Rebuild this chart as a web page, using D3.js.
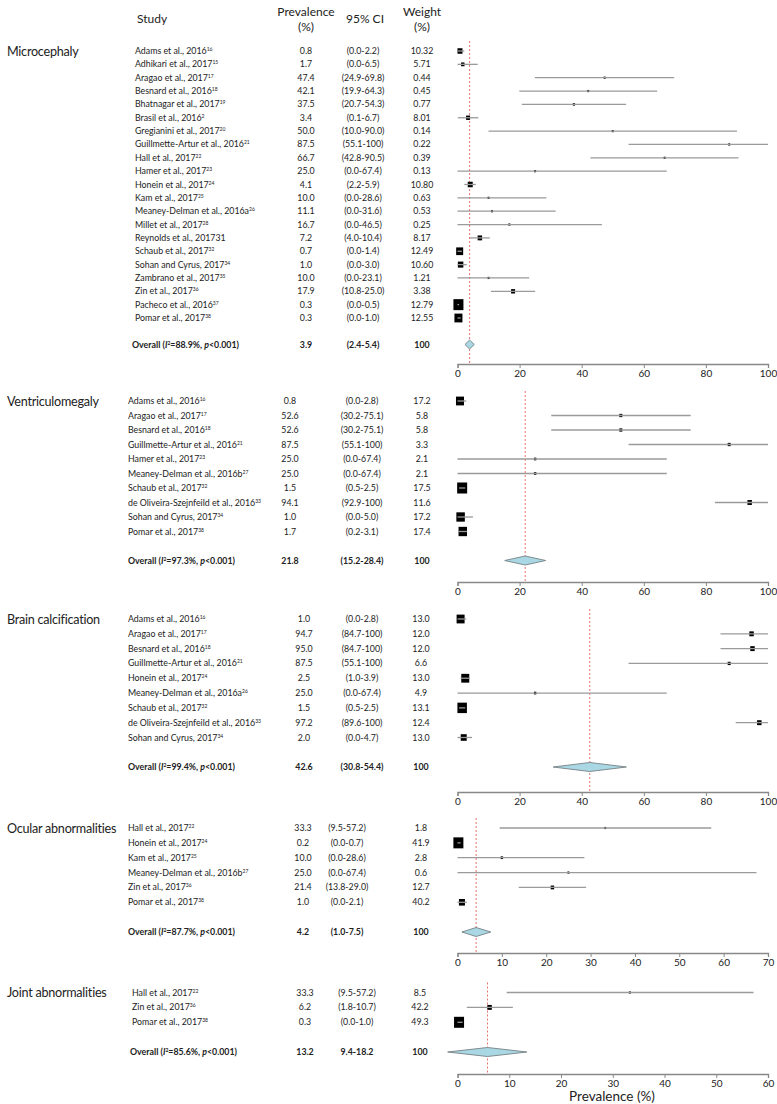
<!DOCTYPE html>
<html><head><meta charset="utf-8">
<script src="https://cdn.jsdelivr.net/npm/d3@7"></script>
<style>
body{margin:0;background:#fff}
text{font-family:Lato,"Open Sans",sans-serif;fill:#222}
</style></head>
<body><svg id="chart" width="777" height="1104"></svg>
<script>
// ---------- DATA ----------
const panelNames = ["Microcephaly","Ventriculomegaly","Brain calcification","Ocular abnormalities","Joint abnormalities"];

const microStudies = ["Adams et al., 2016","Adhikari et al., 2017","Aragao et al., 2017","Besnard et al., 2016","Bhatnagar et al., 2017","Brasil et al., 2016","Gregianini et al., 2017","Guillmette-Artur et al., 2016","Hall et al., 2017","Hamer et al., 2017","Honein et al., 2017","Kam et al., 2017","Meaney-Delman et al., 2016a","Millet et al., 2017","Reynolds et al., 201731","Schaub et al., 2017","Sohan and Cyrus, 2017","Zambrano et al., 2017","Zin et al., 2017","Pacheco et al., 2016","Pomar et al., 2017"];
const microRefs = ["16","15","17","18","19","2","20","21","22","23","24","25","26","28","","32","34","35","36","37","38"];
const microEst = [0.8,1.7,47.4,42.1,37.5,3.4,50.0,87.5,66.7,25.0,4.1,10.0,11.1,16.7,7.2,0.7,1.0,10.0,17.9,0.3,0.3];
const microLo = [0.0,0.0,24.9,19.9,20.7,0.1,10.0,55.1,42.8,0.0,2.2,0.0,0.0,0.0,4.0,0.0,0.0,0.0,10.8,0.0,0.0];
const microHi = [2.2,6.5,69.8,64.3,54.3,6.7,90.0,100,90.5,67.4,5.9,28.6,31.6,46.5,10.4,1.4,3.0,23.1,25.0,0.5,1.0];
const microCi = ["(0.0-2.2)","(0.0-6.5)","(24.9-69.8)","(19.9-64.3)","(20.7-54.3)","(0.1-6.7)","(10.0-90.0)","(55.1-100)","(42.8-90.5)","(0.0-67.4)","(2.2-5.9)","(0.0-28.6)","(0.0-31.6)","(0.0-46.5)","(4.0-10.4)","(0.0-1.4)","(0.0-3.0)","(0.0-23.1)","(10.8-25.0)","(0.0-0.5)","(0.0-1.0)"];
const microWeight = [10.32,5.71,0.44,0.45,0.77,8.01,0.14,0.22,0.39,0.13,10.80,0.63,0.53,0.25,8.17,12.49,10.60,1.21,3.38,12.79,12.55];
const microBoxWeight = [25,12,4,4,5,16,4,4,4,2,25,4,4,2,20,49,30,4,16,100,64];

const ventStudies = ["Adams et al., 2016","Aragao et al., 2017","Besnard et al., 2016","Guillmette-Artur et al., 2016","Hamer et al., 2017","Meaney-Delman et al., 2016b","Schaub et al., 2017","de Oliveira-Szejnfeild et al., 2016","Sohan and Cyrus, 2017","Pomar et al., 2017"];
const ventRefs = ["16","17","18","21","23","27","32","33","34","38"];
const ventEst = [0.8,52.6,52.6,87.5,25.0,25.0,1.5,94.1,1.0,1.7];
const ventLo = [0.0,30.2,30.2,55.1,0.0,0.0,0.5,82.9,0.0,0.2];
const ventHi = [2.8,75.1,75.1,100,67.4,67.4,2.5,100,5.0,3.1];
const ventCi = ["(0.0-2.8)","(30.2-75.1)","(30.2-75.1)","(55.1-100)","(0.0-67.4)","(0.0-67.4)","(0.5-2.5)","(92.9-100)","(0.0-5.0)","(0.2-3.1)"];
const ventWeight = [17.2,5.8,5.8,3.3,2.1,2.1,17.5,11.6,17.2,17.4];
const ventBoxWeight = [64,9,9,9,6,6,100,20,72,72];

const brainStudies = ["Adams et al., 2016","Aragao et al., 2017","Besnard et al., 2016","Guillmette-Artur et al., 2016","Honein et al., 2017","Meaney-Delman et al., 2016a","Schaub et al., 2017","de Oliveira-Szejnfeild et al., 2016","Sohan and Cyrus, 2017"];
const brainRefs = ["16","17","18","21","24","26","32","33","34"];
const brainEst = [1.0,94.7,95.0,87.5,2.5,25.0,1.5,97.2,2.0];
const brainLo = [0.0,84.7,84.7,55.1,1.0,0.0,0.5,89.6,0.0];
const brainHi = [2.8,100,100,100,3.9,67.4,2.5,100,4.7];
const brainCi = ["(0.0-2.8)","(84.7-100)","(84.7-100)","(55.1-100)","(1.0-3.9)","(0.0-67.4)","(0.5-2.5)","(89.6-100)","(0.0-4.7)"];
const brainWeight = [13.0,12.0,12.0,6.6,13.0,4.9,13.1,12.4,13.0];
const brainBoxWeight = [64,20,20,9,64,6,90,20,36];

const ocularStudies = ["Hall et al., 2017","Honein et al., 2017","Kam et al., 2017","Meaney-Delman et al., 2016b","Zin et al., 2017","Pomar et al., 2017"];
const ocularRefs = ["22","24","25","27","36","38"];
const ocularEst = [33.3,0.2,10.0,25.0,21.4,1.0];
const ocularLo = [9.5,0.0,0.0,0.0,13.8,0.0];
const ocularHi = [57.2,0.7,28.6,67.4,29.0,2.1];
const ocularCi = ["(9.5-57.2)","(0.0-0.7)","(0.0-28.6)","(0.0-67.4)","(13.8-29.0)","(0.0-2.1)"];
const ocularWeight = [1.8,41.9,2.8,0.6,12.7,40.2];
const ocularBoxWeight = [4,100,6,4,12,36];

const jointStudies = ["Hall et al., 2017","Zin et al., 2017","Pomar et al., 2017"];
const jointRefs = ["22","36","38"];
const jointEst = [33.3,6.2,0.3];
const jointLo = [9.5,1.8,0.0];
const jointHi = [57.2,10.7,1.0];
const jointCi = ["(9.5-57.2)","(1.8-10.7)","(0.0-1.0)"];
const jointWeight = [8.5,42.2,49.3];
const jointBoxWeight = [4,20,100];

// overall (pooled) rows
const overallI2 = ["88.9","97.3","99.4","87.7","85.6"];
const overallEstText = [3.9,21.8,42.6,4.2,13.2];
const overallCiText = ["(2.4-5.4)","(15.2-28.4)","(30.8-54.4)","(1.0-7.5)","9.4-18.2"];
const overallWeight = [100,100,100,100,100];
// pooled diamond as drawn
const overallEst = [3.9,21.8,42.6,4.2,5.8];
const overallLo = [2.4,15.2,30.8,1.0,-1.9];
const overallHi = [5.4,28.4,54.4,7.5,13.4];

const axisMax = [100,100,100,70,60];
const axisTicks = [[0,20,40,60,80,100],[0,20,40,60,80,100],[0,20,40,60,80,100],[0,10,20,30,40,50,60,70],[0,10,20,30,40,50,60]];

const headers = {study:"Study", prev:["Prevalence","(%)"], ci:"95% CI", weight:["Weight","(%)"]};
const xTitle = "Prevalence (%)";

// ---------- LAYOUT ----------
const panels = [
  {studies:microStudies, refs:microRefs, est:microEst, lo:microLo, hi:microHi, ci:microCi, w:microWeight, bw:microBoxWeight, wfmt:".2f",
   first:51, last:318, overY:344.5, axisY:364, studyX:135, overX:132, prevX:306, ciX:363, wX:422},
  {studies:ventStudies, refs:ventRefs, est:ventEst, lo:ventLo, hi:ventHi, ci:ventCi, w:ventWeight, bw:ventBoxWeight, wfmt:".1f",
   first:401, last:531.5, overY:560.5, axisY:582, studyX:128, overX:128, prevX:290, ciX:362, wX:422},
  {studies:brainStudies, refs:brainRefs, est:brainEst, lo:brainLo, hi:brainHi, ci:brainCi, w:brainWeight, bw:brainBoxWeight, wfmt:".1f",
   first:619, last:737.5, overY:767, axisY:792, studyX:128, overX:128, prevX:304, ciX:362, wX:421},
  {studies:ocularStudies, refs:ocularRefs, est:ocularEst, lo:ocularLo, hi:ocularHi, ci:ocularCi, w:ocularWeight, bw:ocularBoxWeight, wfmt:".1f",
   first:828, last:902.3, overY:932, axisY:953, studyX:128, overX:128, prevX:303, ciX:347, wX:421},
  {studies:jointStudies, refs:jointRefs, est:jointEst, lo:jointLo, hi:jointHi, ci:jointCi, w:jointWeight, bw:jointBoxWeight, wfmt:".1f",
   first:992.5, last:1022.3, overY:1052, axisY:1074, studyX:132, overX:130, prevX:305, ciX:357, wX:420}
];
const plotX0 = 457.5, plotX1 = 768;

const svg = d3.select("#chart");

// header
const hdr = svg.append("g").attr("font-size",12);
hdr.append("text").attr("x",137).attr("y",23).text(headers.study);
hdr.append("text").attr("x",306).attr("y",16).attr("text-anchor","middle").text(headers.prev[0]);
hdr.append("text").attr("x",306).attr("y",31).attr("text-anchor","middle").text(headers.prev[1]);
hdr.append("text").attr("x",365).attr("y",23).attr("text-anchor","middle").text(headers.ci);
hdr.append("text").attr("x",422).attr("y",16).attr("text-anchor","middle").text(headers.weight[0]);
hdr.append("text").attr("x",422).attr("y",31).attr("text-anchor","middle").text(headers.weight[1]);

const boxScale = d3.scaleSqrt().domain([0,100]).range([0,10]);
const fs = 8.8;

panels.forEach((p,pi)=>{
  const g = svg.append("g");
  const x = d3.scaleLinear().domain([0,axisMax[pi]]).range([plotX0,plotX1]);
  const y = d3.scalePoint().domain(d3.range(p.studies.length)).range([p.first,p.last]);
  const wf = d3.format(p.wfmt), ef = d3.format(".1f");

  // section label
  g.append("text").attr("x",7).attr("y",p.first+4.5).attr("font-size",12.6)
    .attr("letter-spacing",-0.25).text(panelNames[pi]);

  // table rows
  p.studies.forEach((s,i)=>{
    const t = g.append("text").attr("x",p.studyX).attr("y",y(i)+3).attr("font-size",fs);
    t.append("tspan").text(s);
    if(p.refs[i]) t.append("tspan").attr("font-size",5).attr("dy",-3).text(p.refs[i]);
    g.append("text").attr("x",p.prevX).attr("y",y(i)+3).attr("font-size",fs).attr("text-anchor","middle").text(ef(p.est[i]));
    g.append("text").attr("x",p.ciX).attr("y",y(i)+3).attr("font-size",fs).attr("text-anchor","middle").text(p.ci[i]);
    g.append("text").attr("x",p.wX).attr("y",y(i)+3).attr("font-size",fs).attr("text-anchor","middle").text(wf(p.w[i]));
  });
  // overall row text
  const oy = p.overY+3;
  const ot = g.append("text").attr("x",p.overX).attr("y",oy).attr("font-size",fs).attr("font-weight","bold");
  ot.append("tspan").text("Overall (");
  ot.append("tspan").attr("font-style","italic").text("I");
  ot.append("tspan").attr("font-size",5).attr("dy",-3).text("2");
  ot.append("tspan").attr("dy",3).text("="+overallI2[pi]+"%, ");
  ot.append("tspan").attr("font-style","italic").text("p");
  ot.append("tspan").text("<0.001)");
  g.append("text").attr("x",p.prevX).attr("y",oy).attr("font-size",fs).attr("font-weight","bold").attr("text-anchor","middle").text(ef(overallEstText[pi]));
  g.append("text").attr("x",p.ciX).attr("y",oy).attr("font-size",fs).attr("font-weight","bold").attr("text-anchor","middle").text(overallCiText[pi]);
  g.append("text").attr("x",p.wX).attr("y",oy).attr("font-size",fs).attr("font-weight","bold").attr("text-anchor","middle").text(overallWeight[pi]);

  // red dashed line at pooled estimate
  g.append("line").attr("x1",x(overallEst[pi])).attr("x2",x(overallEst[pi]))
    .attr("y1",p.first-10).attr("y2",p.axisY)
    .attr("stroke","#e8706f").attr("stroke-width",1).attr("stroke-dasharray","2,2");

  // boxes then CI lines
  p.studies.forEach((s,i)=>{
    const sz = Math.max(2,boxScale(p.bw[i]));
    g.append("rect").attr("x",x(p.est[i])-sz/2).attr("y",y(i)-sz*0.55).attr("width",sz).attr("height",sz*1.1).attr("fill","#000");
    g.append("line").attr("x1",x(p.lo[i])).attr("x2",x(p.hi[i])).attr("y1",y(i)).attr("y2",y(i))
      .attr("stroke","#9a9a9a").attr("stroke-width",1.3);
  });

  // diamond
  const dh = 4.5, cy = p.overY;
  const pts = [[x(overallLo[pi]),cy],[x(overallEst[pi]),cy-dh],[x(overallHi[pi]),cy],[x(overallEst[pi]),cy+dh]];
  g.append("path").attr("d","M"+pts.map(d=>d.join(",")).join("L")+"Z")
    .attr("fill","#a9d8e4").attr("stroke","#7f8c90").attr("stroke-width",1);

  // axis
  const ax = g.append("g").attr("transform",`translate(0,${p.axisY})`)
    .call(d3.axisBottom(x).tickValues(axisTicks[pi]).tickSize(4).tickPadding(2).tickFormat(d3.format("d")));
  ax.select(".domain").attr("stroke","#888").attr("stroke-width",1.3);
  ax.selectAll(".tick line").attr("stroke","#888");
  ax.selectAll(".tick text").attr("font-size",10).attr("font-family","Lato, sans-serif").attr("fill","#333");
});

svg.append("text").attr("x",612).attr("y",1101).attr("text-anchor","middle").attr("font-size",13.5).text(xTitle);
</script></body></html>
